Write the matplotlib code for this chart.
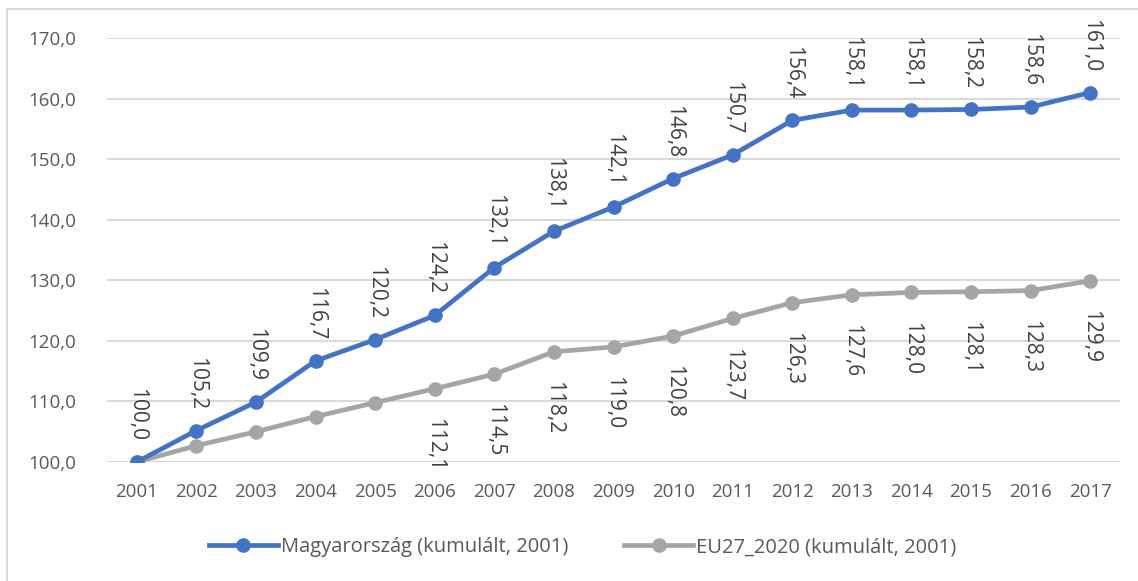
import matplotlib
matplotlib.use('Agg')
import matplotlib.pyplot as plt
from matplotlib.patches import Rectangle

# Data
years = ['2001', '2002', '2003', '2004', '2005', '2006', '2007', '2008', '2009',
         '2010', '2011', '2012', '2013', '2014', '2015', '2016', '2017']
hu_values = [100.0, 105.2, 109.9, 116.7, 120.2, 124.2, 132.1, 138.1, 142.1,
             146.8, 150.7, 156.4, 158.1, 158.1, 158.2, 158.6, 161.0]
eu_values = [100.0, 102.7, 105.0, 107.5, 109.8, 112.1, 114.5, 118.2, 119.0,
             120.8, 123.7, 126.3, 127.6, 128.0, 128.1, 128.3, 129.9]
# which EU labels are shown in the original
eu_label_shown = [False, False, False, False, False, True, True, True, True,
                  True, True, True, True, True, True, True, True]
yticks = [100, 110, 120, 130, 140, 150, 160, 170]

blue = '#4472C4'
gray = '#A5A5A5'
txt = '#595959'
lbl = '#404040'

plt.rcParams['font.family'] = ['Open Sans', 'DejaVu Sans']

fig = plt.figure(figsize=(11.38, 5.81), dpi=100)
ax = fig.add_axes([107 / 1138, 1 - 462 / 581, (1120 - 107) / 1138, (462 - 38) / 581])

# chart area border (only top and left visible in original)
fig.patches.append(Rectangle((7 / 1138, -0.1), 1.2, 1 - 9 / 581 + 0.1,
                             transform=fig.transFigure, fill=False,
                             edgecolor='#D9D9D9', linewidth=1.5))

x = list(range(len(years)))
ax.plot(x, eu_values, color=gray, lw=3.4, marker='o', ms=9.5, label='EU27_2020 (kumulált, 2001)', zorder=3)
ax.plot(x, hu_values, color=blue, lw=3.4, marker='o', ms=9.5, label='Magyarország (kumulált, 2001)', zorder=4)

for i, v in enumerate(hu_values):
    ax.annotate(f'{v:.1f}'.replace('.', ','), (i, v), xytext=(0, 15), textcoords='offset points',
                rotation=-90, ha='center', va='bottom', fontsize=15, color=lbl)
for i, v in enumerate(eu_values):
    if eu_label_shown[i]:
        ax.annotate(f'{v:.1f}'.replace('.', ','), (i, v), xytext=(0, -21), textcoords='offset points',
                    rotation=-90, ha='center', va='top', fontsize=15, color=lbl)

ax.set_xlim(-0.5, len(years) - 0.5)
ax.set_ylim(100, 170)
ax.set_yticks(yticks)
ax.set_yticklabels([f'{t:.1f}'.replace('.', ',') for t in yticks])
ax.set_xticks(x)
ax.set_xticklabels(years)
ax.tick_params(axis='both', length=0, labelsize=13.5, labelcolor=txt)
ax.tick_params(axis='y', pad=22)
ax.tick_params(axis='x', pad=15)
ax.grid(axis='y', color='#D9D9D9', lw=1.5)
ax.set_axisbelow(True)
for s in ax.spines.values():
    s.set_visible(False)

h, l = ax.get_legend_handles_labels()
fig.legend(h[::-1], l[::-1], loc='center', bbox_to_anchor=(0.512, 1 - 547 / 581), ncol=2,
           frameon=False, fontsize=14.5, labelcolor=txt, handlelength=3.4, handletextpad=0.15,
           columnspacing=2.8)

fig.savefig('out.png', dpi=100)
